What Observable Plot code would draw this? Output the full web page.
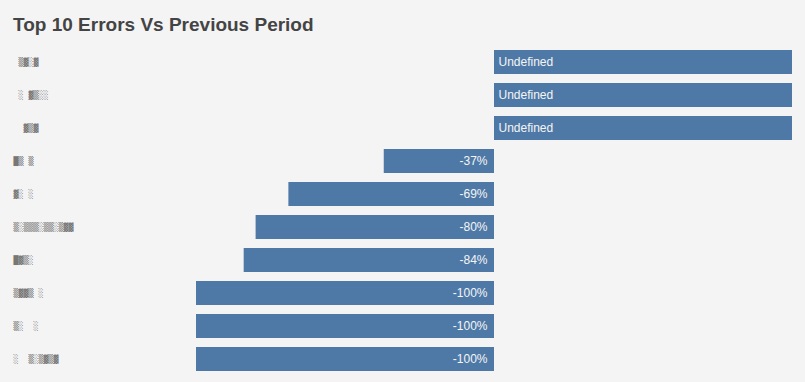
<!DOCTYPE html>
<html><head><meta charset="utf-8">
<script src="https://cdn.jsdelivr.net/npm/d3@7"></script>
<script src="https://cdn.jsdelivr.net/npm/@observablehq/plot@0.6"></script>
<style>
html,body{margin:0;padding:0;background:#f4f4f4;}
#wrap{position:relative;width:805px;height:382px;overflow:hidden;}
#title{position:absolute;left:13px;top:14px;font:bold 19px "Liberation Sans",Arial,sans-serif;color:#444;white-space:nowrap;}
#chart{position:absolute;left:0;top:0;}
</style></head><body>
<div id="wrap"><div id="chart"></div><div id="title">Top 10 Errors Vs Previous Period</div></div>
<script>
// Error names are pixelated (anonymised) in the reference; rendered as grey block glyphs.
const errorLabels = [
  "\u00a0▒▓░▓",
  "\u00a0░\u00a0▓▒░░",
  "\u00a0\u00a0▓▒▓",
  "█▒\u00a0▒",
  "▓░\u00a0░",
  "▒░▒▒▒░▒▒░▒▓▓",
  "█▓▒░",
  "▒▓▓▒\u00a0░",
  "▒░\u00a0\u00a0░",
  "░\u00a0\u00a0▒░▒▓▒▓"
];
const changePct = [null, null, null, -37, -69, -80, -84, -100, -100, -100];
const valueLabels = ["Undefined", "Undefined", "Undefined", "-37%", "-69%", "-80%", "-84%", "-100%", "-100%", "-100%"];
const undefinedBarValue = 100;

const data = errorLabels.map((e, i) => ({
  rank: i,
  error: e,
  pct: changePct[i],
  bar: changePct[i] == null ? undefinedBarValue : changePct[i],
  label: valueLabels[i]
}));

const font = '"Liberation Sans", Arial, sans-serif';
const chart = Plot.plot({
  width: 805,
  height: 382,
  marginTop: 44,
  marginBottom: 5,
  marginLeft: 196,
  marginRight: 13,
  style: {background: "transparent", fontFamily: font},
  x: {domain: [-100, 100], axis: null},
  y: {domain: d3.range(errorLabels.length), axis: null, paddingInner: 0.26, paddingOuter: 0.13},
  marks: [
    Plot.barX(data, {x1: 0, x2: "bar", y: "rank", fill: "#4e79a7"}),
    Plot.text(data.filter(d => d.pct == null), {x: 0, y: "rank", text: "label", textAnchor: "start", dx: 4, fill: "#f5f5f5", fontSize: 12, fontFamily: font}),
    Plot.text(data.filter(d => d.pct != null), {x: 0, y: "rank", text: "label", textAnchor: "end", dx: -7, fill: "#f5f5f5", fontSize: 12, fontFamily: font}),
    Plot.text(data, {frameAnchor: "left", y: "rank", text: "error", textAnchor: "start", dx: -183, fontFamily: "DejaVu Sans Mono", fontSize: 8.3, fill: "#777"})
  ]
});
document.getElementById("chart").appendChild(chart);
</script>
</body></html>
